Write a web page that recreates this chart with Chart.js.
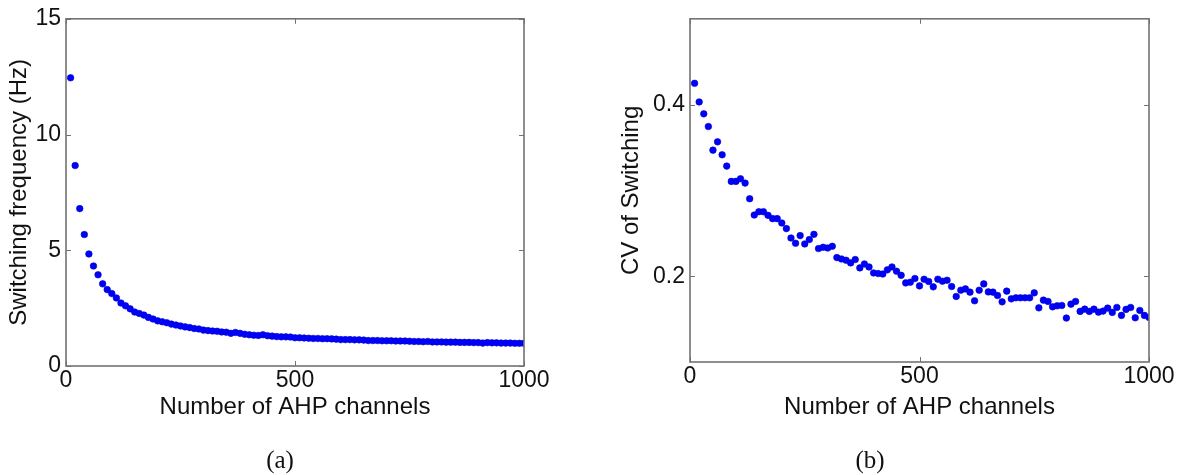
<!DOCTYPE html>
<html>
<head>
<meta charset="utf-8">
<script src="https://cdn.jsdelivr.net/npm/chart.js@4.4.1/dist/chart.umd.min.js"></script>
<style>
  html, body { margin: 0; padding: 0; background: #fff; }
  #wrap { position: relative; width: 1184px; height: 475px; overflow: hidden; }
  canvas { position: absolute; top: 0; }
  #cA { left: 0; }
  #cB { left: 592px; }
  .cap { position: absolute; top: 445px; line-height: 30px; font-family: "Liberation Serif", serif;
         font-size: 25px; color: #111; transform: translateX(-50%); white-space: nowrap; }
</style>
</head>
<body>
<div id="wrap">
  <canvas id="cA" width="592" height="475"></canvas>
  <canvas id="cB" width="592" height="475"></canvas>
  <div class="cap" style="left:280px">(a)</div>
  <div class="cap" style="left:870px">(b)</div>
</div>
<script>
// Number of AHP channels in each simulation
const channels = [
  10, 20, 30, 40, 50, 60, 70, 80, 90, 100,
  110, 120, 130, 140, 150, 160, 170, 180, 190, 200,
  210, 220, 230, 240, 250, 260, 270, 280, 290, 300,
  310, 320, 330, 340, 350, 360, 370, 380, 390, 400,
  410, 420, 430, 440, 450, 460, 470, 480, 490, 500,
  510, 520, 530, 540, 550, 560, 570, 580, 590, 600,
  610, 620, 630, 640, 650, 660, 670, 680, 690, 700,
  710, 720, 730, 740, 750, 760, 770, 780, 790, 800,
  810, 820, 830, 840, 850, 860, 870, 880, 890, 900,
  910, 920, 930, 940, 950, 960, 970, 980, 990, 1000
];

// (a) mean switching frequency, Hz
const switchingFreq = [
  12.45, 8.66, 6.80, 5.68, 4.84, 4.32, 3.94, 3.55, 3.30, 3.13,
  2.94, 2.72, 2.60, 2.47, 2.33, 2.27, 2.20, 2.10, 2.03, 1.95,
  1.91, 1.87, 1.81, 1.77, 1.73, 1.69, 1.66, 1.62, 1.60, 1.55,
  1.53, 1.51, 1.50, 1.47, 1.46, 1.41, 1.45, 1.41, 1.37, 1.35,
  1.33, 1.32, 1.35, 1.31, 1.29, 1.27, 1.26, 1.26, 1.25, 1.22,
  1.22, 1.21, 1.20, 1.19, 1.19, 1.18, 1.18, 1.17, 1.16, 1.14,
  1.14, 1.14, 1.13, 1.13, 1.12, 1.10, 1.10, 1.10, 1.09, 1.09,
  1.09, 1.08, 1.08, 1.08, 1.07, 1.06, 1.06, 1.05, 1.06, 1.04,
  1.04, 1.04, 1.03, 1.03, 1.03, 1.02, 1.02, 1.02, 1.01, 1.01,
  0.99, 1.01, 1.00, 1.00, 0.99, 0.99, 0.99, 0.98, 0.98, 0.98
];

// (b) coefficient of variation of the switching intervals
const switchingCV = [
  0.4248, 0.4031, 0.3892, 0.3744, 0.3469, 0.3566, 0.3415, 0.3283, 0.3105, 0.3105,
  0.3136, 0.3085, 0.2903, 0.2713, 0.2752, 0.2752, 0.2709, 0.2671, 0.2671, 0.2620,
  0.2555, 0.2445, 0.2384, 0.2473, 0.2376, 0.2427, 0.2488, 0.2322, 0.2337, 0.2329,
  0.2349, 0.2217, 0.2201, 0.2186, 0.2155, 0.2194, 0.2097, 0.2143, 0.2108, 0.2038,
  0.2031, 0.2025, 0.2074, 0.2108, 0.2058, 0.2010, 0.1922, 0.1930, 0.1973, 0.1887,
  0.1965, 0.1938, 0.1876, 0.1965, 0.1942, 0.1953, 0.1880, 0.1764, 0.1837, 0.1852,
  0.1814, 0.1713, 0.1837, 0.1910, 0.1817, 0.1814, 0.1775, 0.1701, 0.1826, 0.1736,
  0.1748, 0.1748, 0.1748, 0.1748, 0.1806, 0.1631, 0.1721, 0.1706, 0.1643, 0.1655,
  0.1659, 0.1512, 0.1674, 0.1706, 0.1590, 0.1616, 0.1590, 0.1616, 0.1581, 0.1593,
  0.1628, 0.1578, 0.1636, 0.1543, 0.1613, 0.1636, 0.1515, 0.1601, 0.1543, 0.1520
];

// Axis ticks
const xTicks = [0, 500, 1000];
const freqTicks = [0, 5, 10, 15];
const cvTicks = [0.2, 0.4];

Chart.defaults.font.family = '"Liberation Sans", Arial, sans-serif';
Chart.defaults.color = '#111';

// Box around the axes with short inward tick marks on all four sides
const framePlugin = {
  id: 'frame',
  afterDraw(chart) {
    const { ctx, chartArea: a, scales: { x, y } } = chart;
    ctx.save();
    ctx.strokeStyle = '#727272';
    ctx.lineWidth = 1.6;
    ctx.strokeRect(a.left, a.top, a.right - a.left, a.bottom - a.top);
    ctx.lineWidth = 1;
    const L = 5;
    ctx.beginPath();
    x.ticks.forEach((t, i) => {
      const px = Math.round(x.getPixelForTick(i)) + 0.5;
      ctx.moveTo(px, a.bottom); ctx.lineTo(px, a.bottom - L);
      ctx.moveTo(px, a.top); ctx.lineTo(px, a.top + L);
    });
    y.ticks.forEach((t, i) => {
      const py = Math.round(y.getPixelForTick(i)) + 0.5;
      ctx.moveTo(a.left, py); ctx.lineTo(a.left + L, py);
      ctx.moveTo(a.right, py); ctx.lineTo(a.right - L, py);
    });
    ctx.stroke();
    ctx.restore();
  }
};

function scatterPanel(canvasId, values, yMin, yMax, yTickList, yTitle, g) {
  const points = channels.map((c, i) => ({ x: c, y: values[i] }));
  return new Chart(document.getElementById(canvasId), {
    type: 'scatter',
    data: {
      datasets: [{
        data: points,
        pointRadius: 3.3,
        pointHoverRadius: 3.3,
        pointBackgroundColor: '#0000ff',
        pointBorderColor: '#0000c0',
        pointBorderWidth: 0.6,
        clip: 0
      }]
    },
    options: {
      responsive: false,
      animation: false,
      devicePixelRatio: 1,
      events: [],
      layout: { padding: g.pad },
      plugins: { legend: { display: false }, tooltip: { enabled: false } },
      scales: {
        x: {
          type: 'linear',
          min: 0, max: 1000,
          grid: { display: false, drawTicks: false },
          border: { display: false },
          afterBuildTicks: s => { s.ticks = xTicks.map(v => ({ value: v })); },
          afterFit: s => { s.height = g.xHeight; },
          ticks: {
            padding: 1, maxRotation: 0, autoSkip: false,
            font: { size: 23 }, color: '#111',
            callback: v => String(v)
          },
          title: {
            display: true, text: 'Number of AHP channels',
            font: { size: 24 }, color: '#111',
            padding: { top: 0, bottom: 0 }
          }
        },
        y: {
          type: 'linear',
          min: yMin, max: yMax,
          grid: { display: false, drawTicks: false },
          border: { display: false },
          afterBuildTicks: s => { s.ticks = yTickList.map(v => ({ value: v })); },
          afterFit: s => { s.width = g.yWidth; },
          ticks: {
            padding: 5, autoSkip: false,
            font: { size: 23 }, color: '#111',
            callback: v => String(v)
          },
          title: {
            display: true, text: yTitle,
            font: { size: 24 }, color: '#111',
            padding: { top: g.yTitlePad, bottom: 0 }
          }
        }
      }
    },
    plugins: [framePlugin]
  });
}

scatterPanel('cA', switchingFreq, 0, 15, freqTicks, 'Switching frequency (Hz)', {
  pad: { left: 0, top: 18, right: 68, bottom: 53.6 },
  yWidth: 66, xHeight: 55.4, yTitlePad: 4.6
});

scatterPanel('cB', switchingCV, 0.1, 0.5, cvTicks, 'CV of Switching', {
  pad: { left: 0, top: 18, right: 35, bottom: 53.6 },
  yWidth: 98, xHeight: 59.4, yTitlePad: 24.6
});
</script>
</body>
</html>
